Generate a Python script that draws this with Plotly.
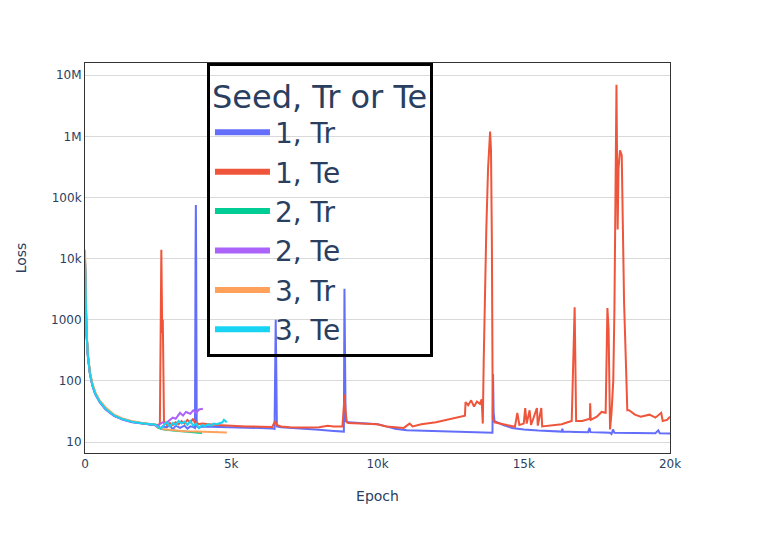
import plotly.graph_objects as go

# epochs and losses (log y axis)
early_ep = [0, 20, 50, 100, 170, 250, 350, 500, 700, 1000, 1300, 1600, 2000, 2400]

s1_tr_ep = early_ep + [2500, 2600, 2650, 2800, 2900, 3000, 3100, 3250, 3400, 3500, 3600, 3700, 3760, 3780, 3790, 3800, 3820,
                       3900, 4000, 4500, 5000, 5500, 6000, 6400, 6480, 6520, 6540, 6560, 6700, 7000, 7500, 8000, 8500,
                       8850, 8870, 8890, 8910, 9000, 9500, 10000, 10300, 10600, 11000, 11500, 12000, 12500, 13000,
                       13500, 13930, 13950, 13970, 14000, 14300, 14600, 15000, 15500, 16000, 16300, 16320, 16340,
                       16800, 17200, 17250, 17280, 17700, 17950, 18000, 18050, 18100, 18500, 19000, 19500, 19600,
                       19650, 20000]
s1_tr = [9000, 2200, 650, 260, 135, 88, 63, 46, 35, 27, 23.5, 21.5, 20, 19] + \
        [18.5, 16.5, 18, 17.5, 19, 16, 18.5, 17, 18.5, 16.5, 18, 17.5, 17, 14000, 75000, 12000, 18,
         17, 18, 17.8, 17.6, 17.4, 17, 16.7, 16.3, 1000, 150, 18, 17.5, 17, 16.3, 15.8, 15.2,
         14.8, 3200, 300, 22, 21, 20.5, 19.5, 18, 16.5, 15.5, 15.2, 15, 14.8, 14.6,
         14.4, 14.2, 130, 30, 22, 19, 17, 16, 15.4, 15, 14.8, 16.5, 14.8,
         14.6, 14.5, 17, 14.5, 14.3, 14.2, 13.5, 16, 14.2, 14, 14, 13.9, 15.5,
         13.9, 13.8]

s1_te_ep = early_ep + [2500, 2560, 2590, 2610, 2625, 2640, 2660, 2680, 2700, 2800, 2900, 3000, 3100, 3200, 3300, 3400,
                       3500, 3600, 3700, 3760, 3800, 3900, 4000, 4500, 5000, 5500, 6000, 6400, 6500, 6550, 6700, 7000,
                       7500, 8000, 8300, 8500, 8800, 8880, 8900, 8950, 9000, 9500, 10000, 10300, 10600, 10900, 11000,
                       11100, 11200, 11500, 12000, 12500, 12990, 13010, 13100, 13200, 13300, 13400, 13500, 13560,
                       13600, 13630, 13680, 13720, 13780, 13820, 13850, 13880, 13910, 13940, 14000, 14300, 14700,
                       14780, 14850, 15000, 15050, 15100, 15200, 15250, 15450, 15480, 15600, 15630, 16000, 16300,
                       16500, 16640, 16670, 16700, 16740, 16760, 16790, 17000, 17260, 17270, 17290, 17500, 17660,
                       17800, 17830, 17860, 17900, 17950, 18000, 18060, 18100, 18120, 18170, 18210, 18240, 18290,
                       18350, 18390, 18430, 18500, 18540, 18600, 18800, 19000, 19300, 19500, 19700, 19750, 19900,
                       20000]
s1_te = [9500, 2100, 620, 250, 130, 86, 62, 46, 35, 27, 23.5, 21.5, 20, 19.2] + \
        [19, 20, 800, 14000, 3000, 600, 1000, 150, 22, 19, 20.5, 19, 21, 19.5, 22, 20,
         23, 21, 24, 20, 21, 19.5, 20, 19, 18.3, 18, 17.8, 17.6, 22, 19, 18, 17.5,
         17.2, 17.4, 18.5, 18, 18, 60, 35, 21, 20.5, 20, 19.5, 18, 17.5, 17, 18.5,
         20, 18, 19.5, 21, 23.5, 27, 45, 40, 48, 38, 46, 42, 50,
         20, 200, 5000, 30000, 300000, 1000000, 1200000, 600000, 20000, 24, 21, 19.5, 17.8,
         30, 19, 20, 36, 20, 33, 19, 36, 18.5, 36, 18, 19, 19.5,
         21, 22, 80, 220, 1600, 300, 22, 22, 24, 43, 23, 26, 31,
         30, 900, 1550, 700, 16, 30, 100, 1500, 22000, 7000000, 30000, 300000, 590000,
         490000, 30000, 1900, 150, 33, 33, 28, 26, 28, 25, 30, 22, 23,
         26]

s2_tr_ep = early_ep + [2500, 2700, 3000, 3300, 3600, 4000]
s2_tr = [9800, 2300, 640, 255, 132, 87, 62, 46, 35, 27, 23.5, 21.5, 20, 19] + \
        [17, 16, 15.4, 15, 14.5, 14]

s2_te_ep = early_ep + [2450, 2550, 2650, 2750, 2900, 3000, 3100, 3250, 3350, 3450, 3600, 3700, 3800, 3900, 4030]
s2_te = [10000, 2000, 600, 245, 128, 84, 60, 45, 34, 26.5, 23, 21, 19.8, 19] + \
        [17.8, 19.5, 21, 20, 23, 25, 24, 30, 27, 31, 29, 33, 30, 34, 35]

s3_tr_ep = early_ep + [2500, 2700, 3000, 3400, 3800, 4200, 4850]
s3_tr = [14000, 2500, 700, 270, 140, 92, 66, 48, 37, 28, 24, 22, 20.3, 19.3] + \
        [17.5, 16.2, 15.5, 15, 14.8, 14.6, 14.3]

s3_te_ep = early_ep + [2500, 2600, 2700, 2800, 2900, 3000, 3100, 3200, 3300, 3400, 3500, 3600, 3700, 3800, 3900,
                       4000, 4100, 4200, 4300, 4400, 4500, 4600, 4700, 4750, 4800, 4850]
s3_te = [9700, 2100, 630, 255, 131, 86, 62, 46, 35, 27, 23.5, 21.5, 20, 19.3] + \
        [18, 16.5, 19, 21, 18, 20.5, 19, 22, 20, 21.5, 19, 22, 18.5, 20, 17,
         19, 18, 19.5, 18.5, 20, 19.5, 20.5, 21, 23, 22, 21]

names = ["1, Tr", "1, Te", "2, Tr", "2, Te", "3, Tr", "3, Te"]
colors = ["#636efa", "#EF553B", "#00cc96", "#ab63fa", "#FFA15A", "#19d3f3"]
series = [(s1_tr_ep, s1_tr), (s1_te_ep, s1_te), (s2_tr_ep, s2_tr),
          (s2_te_ep, s2_te), (s3_tr_ep, s3_tr), (s3_te_ep, s3_te)]

fig = go.Figure()
for name, col, (ep, loss) in zip(names, colors, series):
    fig.add_trace(go.Scatter(x=ep, y=loss, mode="lines", name=name, legendgroup=name,
                             showlegend=False, line=dict(color=col, width=2)))
# legend entries with thicker lines
for name, col in zip(names, colors):
    fig.add_trace(go.Scatter(x=[None], y=[None], mode="lines", name=name, legendgroup=name,
                             line=dict(color=col, width=6)))

fig.update_layout(
    template="plotly_white",
    width=753, height=537,
    margin=dict(l=77, r=91, t=55, b=92),
    font=dict(family="DejaVu Sans, Verdana, sans-serif", color="#2a3f5f"),
    legend=dict(title=dict(text="Seed, Tr or Te", font=dict(size=32)), font=dict(size=28),
                x=0.2085, xanchor="left", y=1.0, yanchor="top", tracegroupgap=0, itemwidth=55,
                bordercolor="black", borderwidth=3, bgcolor="rgba(0,0,0,0)"),
)
fig.update_xaxes(title=dict(text="Epoch", standoff=20), range=[0, 20000], showgrid=False, zeroline=False,
                 showline=True, mirror=True, linecolor="#333", linewidth=1, automargin=True)
fig.update_yaxes(title=dict(text="Loss", standoff=21), type="log", range=[0.82, 7.2], dtick=1,
                 gridcolor="#d9d9d9", showline=True, mirror=True, linecolor="#333", linewidth=1,
                 automargin=True)

fig.write_html("out.html")
